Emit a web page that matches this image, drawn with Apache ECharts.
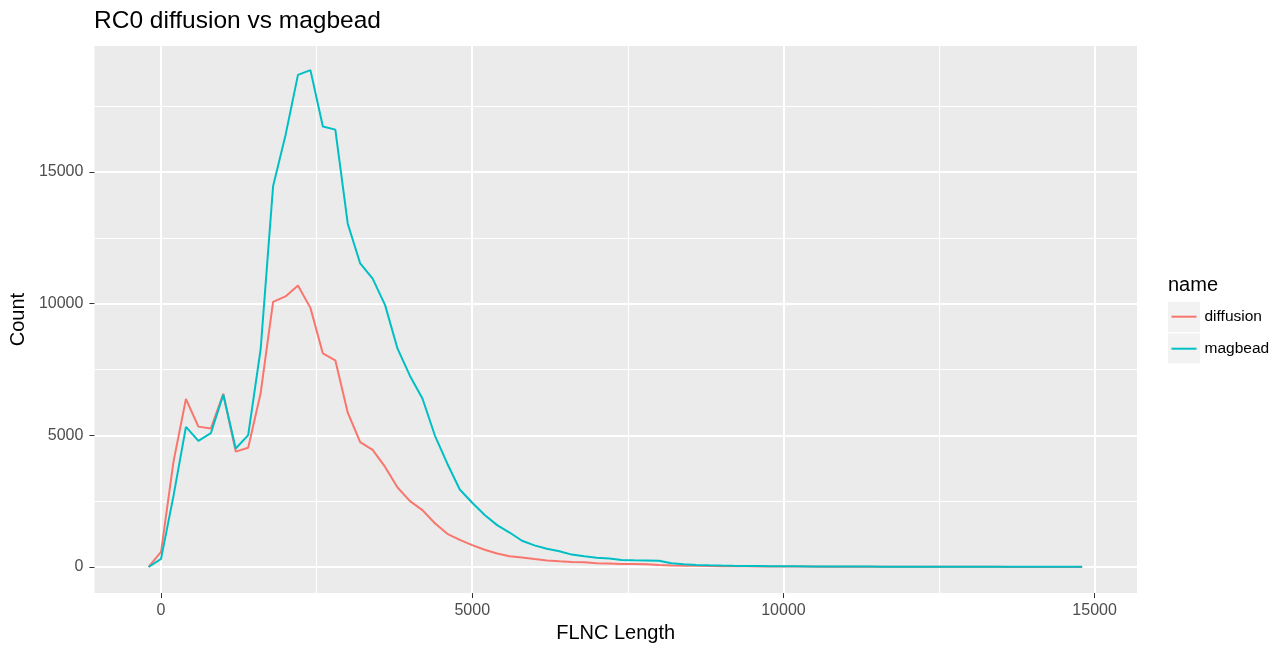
<!DOCTYPE html>
<html>
<head>
<meta charset="utf-8">
<script src="https://cdn.jsdelivr.net/npm/echarts@6/dist/echarts.min.js"></script>
<style>
html,body{margin:0;padding:0;background:#fff;}
#chart{width:1276px;height:648px;}
</style>
</head>
<body>
<div id="chart"></div>
<script>
// FLNC length bins
const lengths = [-200, 0, 200, 400, 600, 800, 1000, 1200, 1400, 1600, 1800, 2000, 2200, 2400, 2600, 2800, 3000,
  3200, 3400, 3600, 3800, 4000, 4200, 4400, 4600, 4800, 5000, 5200, 5400, 5600, 5800, 6000,
  6200, 6400, 6600, 6800, 7000, 7200, 7400, 7600, 7800, 8000, 8200, 8400, 8600, 8800, 9000,
  9200, 9400, 9600, 9800, 10000, 10200, 10400, 10600, 10800, 11000, 11200, 11400, 11600, 11800, 12000,
  12200, 12400, 12600, 12800, 13000, 13200, 13400, 13600, 13800, 14000, 14200, 14400, 14600, 14800];

const diffusion = [0, 570, 4000, 6380, 5330, 5260, 6580, 4380, 4530, 6600, 10070, 10275, 10690, 9840, 8110, 7850, 5860,
  4740, 4450, 3800, 3020, 2500, 2160, 1660, 1260, 1030, 830, 655, 515, 410, 360, 300,
  245, 215, 190, 175, 140, 128, 115, 110, 100, 78, 60, 50, 42, 36, 32,
  28, 25, 22, 20, 18, 16, 14, 13, 12, 11, 10, 9, 8, 8, 7,
  6, 6, 5, 5, 4, 4, 4, 3, 3, 3, 2, 2, 2, 2];

const magbead = [0, 310, 2700, 5320, 4790, 5080, 6540, 4500, 5010, 8260, 14456, 16400, 18690, 18870, 16730, 16610, 13035,
  11527, 10950, 9945, 8290, 7255, 6399, 4992, 3922, 2941, 2440, 1976, 1590, 1308, 995, 820,
  690, 600, 470, 405, 355, 318, 265, 255, 250, 240, 140, 102, 78, 62, 52,
  44, 38, 34, 30, 27, 24, 21, 19, 17, 16, 15, 14, 13, 12, 11,
  10, 9, 9, 8, 8, 7, 7, 6, 6, 6, 5, 5, 5, 5];

const xMajorTicks = [0, 5000, 10000, 15000];
const xMinorTicks = [2500, 7500, 12500];
const yMajorTicks = [0, 5000, 10000, 15000];
const yMinorTicks = [2500, 7500, 12500, 17500];

const seriesNames = ['diffusion', 'magbead'];
const seriesColors = ['#F8766D', '#00BFC4'];

const FONT = 'Liberation Sans, Arial, Helvetica, sans-serif';
const chart = echarts.init(document.getElementById('chart'), null, {renderer: 'canvas'});

const xMin = -1071, xMax = 15681, yMin = -992, yMax = 19785;

function axisCommon(ticks, show) {
  return {
    min: 0, max: 0,
    axisLine: {show: false, onZero: false},
    axisTick: {show: show, length: 5, lineStyle: {color: '#333333', width: 1}, customValues: ticks},
    axisLabel: {show: show, color: '#4D4D4D', fontSize: 16, fontFamily: FONT, customValues: ticks,
      formatter: v => String(v)},
    splitLine: {show: true, lineStyle: {color: '#FFFFFF', width: show ? 2 : 1}},
    minorSplitLine: {show: false}
  };
}

const xMain = Object.assign(axisCommon(xMajorTicks, true), {
  type: 'value', gridIndex: 0, position: 'bottom', min: xMin, max: xMax,
  name: 'FLNC Length', nameLocation: 'middle', nameGap: 29,
  nameTextStyle: {color: '#000', fontSize: 20, fontFamily: FONT}
});
xMain.axisLabel.margin = 9;
const xMinor = Object.assign(axisCommon(xMinorTicks, false), {
  type: 'value', gridIndex: 0, position: 'top', min: xMin, max: xMax
});
const yMain = Object.assign(axisCommon(yMajorTicks, true), {
  type: 'value', gridIndex: 0, position: 'left', min: yMin, max: yMax,
  name: 'Count', nameLocation: 'middle', nameGap: 54,
  nameTextStyle: {color: '#000', fontSize: 20, fontFamily: FONT}
});
yMain.axisLabel.margin = 11;
const yMinor = Object.assign(axisCommon(yMinorTicks, false), {
  type: 'value', gridIndex: 0, position: 'right', min: yMin, max: yMax
});

function pairs(ys) { return lengths.map((x, i) => [x, ys[i]]); }

const option = {
  backgroundColor: '#FFFFFF',
  animation: false,
  title: {
    text: 'RC0 diffusion vs magbead', left: 94, top: 9, padding: 0,
    textStyle: {color: '#000', fontSize: 24.5, fontWeight: 'normal', fontFamily: FONT}
  },
  grid: {left: 94, top: 46, width: 1043, height: 551, show: true, backgroundColor: '#EBEBEB', borderWidth: 0},
  xAxis: [xMain, xMinor],
  yAxis: [yMain, yMinor],
  legend: {
    data: seriesNames, orient: 'vertical', left: 1171.5, top: 306.7, padding: 0,
    itemWidth: 25, itemHeight: 2, itemGap: 12, icon: 'rect',
    textStyle: {color: '#000', fontSize: 15.5, fontFamily: FONT, lineHeight: 20, padding: [0, 0, 0, 3]}
  },
  graphic: [
    {type: 'rect', left: 1168, top: 302, z: -1, shape: {width: 32, height: 30}, style: {fill: '#F2F2F2'}},
    {type: 'rect', left: 1168, top: 333.5, z: -1, shape: {width: 32, height: 30}, style: {fill: '#F2F2F2'}},
    {type: 'text', x: 1168, y: 285, style: {text: 'name', fill: '#000', font: '20px ' + FONT, verticalAlign: 'middle'}}
  ],
  series: seriesNames.map((name, i) => ({
    name: name, type: 'line', xAxisIndex: 0, yAxisIndex: 0,
    data: pairs(i === 0 ? diffusion : magbead),
    showSymbol: false, symbol: 'none', smooth: false,
    lineStyle: {color: seriesColors[i], width: 2},
    itemStyle: {color: seriesColors[i]}
  }))
};
chart.setOption(option);
</script>
</body>
</html>
